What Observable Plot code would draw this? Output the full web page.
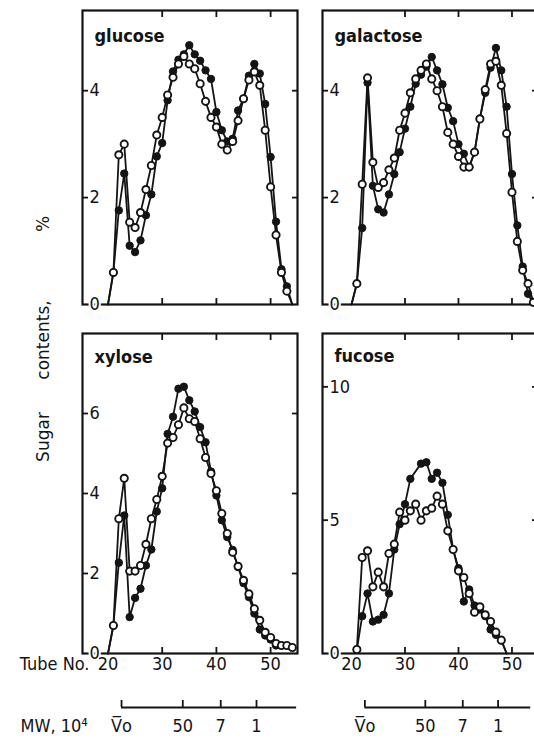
<!DOCTYPE html>
<html><head><meta charset="utf-8">
<script src="https://cdn.jsdelivr.net/npm/d3@7"></script>
<script src="https://cdn.jsdelivr.net/npm/@observablehq/plot@0.6"></script>
<style>
html,body{margin:0;padding:0;background:#fff;overflow:hidden;width:534px;height:738px}
#fig{position:relative;width:534px;height:738px;overflow:hidden}
.ylab{position:absolute;transform:translate(-50%,-50%) rotate(-90deg);font-family:"DejaVu Sans",sans-serif;font-size:17px;color:#141414;white-space:nowrap}
</style></head><body><div id="fig"></div>
<script>
// ---------- data ----------
const tubeNo = [20,21,22,23,24,25,26,27,28,29,30,31,32,33,34,35,36,37,38,39,40,41,42,43,44,45,46,47,48,49,50,51,52,53,54];

const glucoseOpen   = [0,0.6,2.8,3.0,1.54,1.44,1.72,2.15,2.6,3.17,3.5,3.92,4.25,4.5,4.64,4.5,4.41,4.13,3.8,3.5,3.32,3.0,2.89,3.05,3.44,3.85,4.2,4.35,4.1,3.26,2.2,1.3,0.6,0.25,0];
const glucoseFilled = [0,0.6,1.76,2.45,1.1,0.98,1.2,1.67,2.06,2.77,3.02,3.82,4.36,4.58,4.68,4.85,4.68,4.56,4.38,4.22,3.6,3.26,3.05,3.1,3.63,3.85,4.28,4.5,4.32,3.75,2.76,1.55,0.66,0.34,0];

const galactoseOpen   = [0,0.39,2.25,4.24,2.66,2.19,2.28,2.52,2.74,3.26,3.58,3.96,4.22,4.38,4.5,4.22,4.0,3.7,3.22,3.0,2.77,2.57,2.57,2.85,3.47,4.02,4.5,4.55,4.1,3.2,2.1,1.18,0.64,0.39,0.04];
const galactoseFilled = [0,0.39,1.43,4.15,2.22,1.78,1.72,2.06,2.44,2.85,3.29,3.7,4.13,4.3,4.45,4.63,4.38,4.12,3.68,3.43,3.0,2.82,2.57,2.85,3.48,3.96,4.43,4.8,4.38,3.7,2.44,1.48,0.71,0.2,0];

const xyloseOpen   = [0,0.7,3.37,4.38,2.06,2.06,2.2,2.73,3.37,3.85,4.43,5.26,5.4,5.72,6.14,5.87,5.8,5.37,4.9,4.5,4.07,3.5,3.0,2.53,2.18,1.83,1.49,1.12,0.83,0.53,0.4,0.25,0.2,0.2,0.15];
const xyloseFilled = [0,0.7,2.27,3.45,0.91,1.39,1.62,2.2,2.6,3.55,4.13,5.49,5.92,6.62,6.67,6.33,6.05,5.66,5.28,4.55,3.95,3.33,2.91,2.59,2.16,1.76,1.41,1.0,0.6,0.45,0.35,0.2,null,null,null];

const fucoseOpen   = [null,0.15,3.6,3.85,2.5,3.05,2.5,3.75,4.1,5.3,5.0,5.35,5.6,5.0,5.35,5.45,5.9,5.6,4.6,3.9,3.1,2.85,2.25,1.55,1.75,1.45,1.2,0.8,0.5,0,null,null,null,null,null];
const fucoseFilled = [null,0.15,1.4,2.25,1.2,1.27,1.45,2.25,3.9,4.85,5.6,6.55,null,7.12,7.17,6.55,6.78,6.4,5.2,3.9,3.2,1.95,2.4,1.8,1.65,1.4,0.9,0.7,0.5,0,null,null,null,null,null];

const tubeTicks = [30,40,50];
const tubeLabels = [20,30,40,50];
const mwTube  = [22.5,33.8,40.8,47.4];
const mwLabel = ["V\u0305o","50","7","1"];
const mwScaleEnd = [54.8,53.5];

// ---------- layout ----------
const ink = "#141414";
const FONT = '"DejaVu Sans Condensed","Liberation Sans Narrow","DejaVu Sans",sans-serif';
const cols = [
  {left:0,   mL:82, domain:[15.3,54.96]},
  {left:312, mL:10, domain:[14.58,54.77]}
];
const rows = [
  {top:0,   mT:10, h:294, mB:10},
  {top:323, mT:10, h:320, mB:30}
];
const panels = [
  {name:"glucose",   open:glucoseOpen,   filled:glucoseFilled,   c:0, r:0, yMax:5.5, ticks:[2,4],   labels:[0,2,4],   tdy:26},
  {name:"galactose", open:galactoseOpen, filled:galactoseFilled, c:1, r:0, yMax:5.5, ticks:[2,4],   labels:[0,2,4],   tdy:26},
  {name:"xylose",    open:xyloseOpen,    filled:xyloseFilled,    c:0, r:1, yMax:8,   ticks:[2,4,6], labels:[0,2,4,6], tdy:24},
  {name:"fucose",    open:fucoseOpen,    filled:fucoseFilled,    c:1, r:1, yMax:12,  ticks:[5,10],  labels:[0,5,10],  tdy:23}
];

const fig = document.getElementById("fig");
function place(svg, left, top){
  svg.style.position = "absolute";
  svg.style.left = left + "px";
  svg.style.top = top + "px";
  svg.style.maxWidth = "none";
  fig.appendChild(svg);
}
const series = vals => tubeNo.map((t,i)=>({tube:t, v:vals[i]})).filter(d => d.v != null);
const blank = () => "";

for (const p of panels) {
  const col = cols[p.c], row = rows[p.r];
  const width = col.mL + 215 + 10;
  const height = row.mT + row.h + row.mB;
  const op = series(p.open), fl = series(p.filled);
  const marks = [
    Plot.frame({stroke: ink, strokeWidth: 2.2}),
    Plot.axisX(tubeTicks, {anchor:"top", tickSize:6, dy:6, tickFormat:blank, label:null, stroke:ink, strokeWidth:1.8}),
    Plot.axisX(tubeTicks, {anchor:"bottom", tickSize:6, dy:-6, tickFormat:blank, label:null, stroke:ink, strokeWidth:1.8}),
    Plot.axisY(p.ticks, {anchor:"left", tickSize:6, dx:6, tickFormat:blank, label:null, stroke:ink, strokeWidth:1.8}),
    Plot.axisY(p.ticks, {anchor:"right", tickSize:6, dx:-6, tickFormat:blank, label:null, stroke:ink, strokeWidth:1.8}),
    Plot.text(p.labels, {y:d=>d, text:d=>String(d), frameAnchor:"left", dx:7, textAnchor:"start", lineAnchor:"middle",
      fill:ink, stroke:"white", strokeWidth:4, fontSize:18}),
    Plot.line(fl, {x:"tube", y:"v", stroke:ink, strokeWidth:1.8}),
    Plot.line(op, {x:"tube", y:"v", stroke:ink, strokeWidth:1.8}),
    Plot.dot(fl.filter(d=>d.v>0), {x:"tube", y:"v", r:3.7, fill:ink, stroke:ink, strokeWidth:1}),
    Plot.dot(op.filter(d=>d.v>0), {x:"tube", y:"v", r:3.6, fill:"white", stroke:ink, strokeWidth:1.9}),
    Plot.text([p.name], {frameAnchor:"top-left", dx:12, dy:p.tdy, textAnchor:"start", lineAnchor:"middle",
      fill:ink, fontSize:18, fontWeight:"bold"})
  ];
  if (p.r === 1) {
    marks.push(Plot.text(tubeLabels, {x:d=>d, text:d=>String(d), frameAnchor:"bottom", dy:11, lineAnchor:"middle", fill:ink, fontSize:18}));
    if (p.c === 0) marks.push(Plot.text(["Tube No."], {frameAnchor:"bottom-left", dx:7, dy:11, textAnchor:"end", lineAnchor:"middle", fill:ink, fontSize:18}));
  }
  const svg = Plot.plot({
    width, height,
    marginLeft: col.mL, marginRight: 10, marginTop: row.mT, marginBottom: row.mB,
    x: {domain: col.domain},
    y: {domain: [0, p.yMax]},
    style: {fontFamily: FONT, fontSize: "18px", color: ink, background: "transparent", overflow: "visible"},
    marks
  });
  place(svg, col.left, row.top);
}

// MW scales
[0,1].forEach(c => {
  const col = cols[c];
  const width = col.mL + 215 + 10;
  const mw = mwTube.map((t,i)=>({tube:t, label:mwLabel[i]}));
  const marks = [
    Plot.ruleY([{x1: mwTube[0], x2: mwScaleEnd[c]}], {y:() => 0, x1:"x1", x2:"x2", stroke:ink, strokeWidth:1.8}),
    Plot.tickX(mw, {x:"tube", stroke:ink, strokeWidth:1.8}),
    Plot.text(mw, {x:"tube", text:"label", frameAnchor:"bottom", dy:19, lineAnchor:"middle", fill:ink, fontSize:18})
  ];
  if (c === 0) marks.push(Plot.text(["MW, 10\u2074"], {frameAnchor:"bottom-left", dx:-62, dy:19, textAnchor:"start", lineAnchor:"middle", fill:ink, fontSize:18}));
  const svg = Plot.plot({
    width, height: 50,
    marginLeft: col.mL, marginRight: 10, marginTop: 10, marginBottom: 33,
    x: {domain: col.domain, axis: null},
    y: {domain: [0,1], axis: null},
    style: {fontFamily: FONT, fontSize: "18px", color: ink, background: "transparent", overflow: "visible"},
    marks
  });
  place(svg, col.left, 690);
});

// y-axis title
[["Sugar",437],["contents,",340],["%",224]].forEach(([t,y]) => {
  const s = document.createElement("div");
  s.className = "ylab";
  s.textContent = t;
  s.style.left = "43px";
  s.style.top = y + "px";
  fig.appendChild(s);
});
</script></body></html>
